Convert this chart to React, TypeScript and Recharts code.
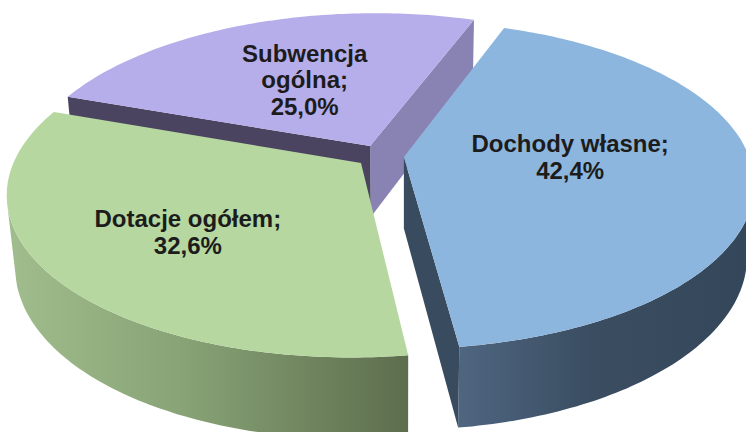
import React from 'react';
import { PieChart, Pie } from 'recharts';

// data (order follows the drawing order: back slice first)
const CATEGORIES = ['Subwencja ogólna', 'Dotacje ogółem', 'Dochody własne'];
const SHARES = [25.0, 32.6, 42.4];

const TOP_COLORS = ['#b6aeea', '#b6d7a0', '#8db6de'];
const START_FACE = ['#8983b3', '#7f9a6c', '#394b5e'];
const END_FACE = ['#4a4461', '#6d8560', '#3a4c5f'];
const WALL_STOPS = [
  ['#9a92c8', '#7d76aa', '#6e679a'],
  ['#a1bd8d', '#87a275', '#5d6d4d'],
  ['#4f6681', '#3a4d61', '#33465a'],
];
// where the label sits: share of the radius, then a small vertical nudge
const LABEL_RADIUS = [0.5, 0.59, 0.48];
const LABEL_NUDGE = [-1, 5, -8];

const chartData = CATEGORIES.map((name, i) => ({ name, value: SHARES[i] }));

// fake 3d view
const SIN_T = 0.46;
const COS_T = Math.sqrt(1 - SIN_T * SIN_T);
const EYE = 1800;
const CAM_X = 27;
const DEPTH = 82;
const EXPLODE = 24;
const RAD = Math.PI / 180;

const project = (cx: number, cy: number, x: number, z: number, y: number) => {
  const sy = z * SIN_T - y * COS_T;
  const d = z * COS_T + y * SIN_T;
  const f = EYE / (EYE - d);
  return [cx + CAM_X + (x - CAM_X) * f, cy + sy * f];
};

const toPath = (pts: number[][]) =>
  pts.map((p, i) => `${i ? 'L' : 'M'}${p[0].toFixed(1)},${p[1].toFixed(1)}`).join(' ') + ' Z';

const Slice3D = (props: any) => {
  const { cx, cy, outerRadius, startAngle, endAngle, percent, index } = props;
  const lo = Math.min(startAngle, endAngle);
  const hi = Math.max(startAngle, endAngle);
  const mid = (lo + hi) / 2;
  const R = outerRadius;
  const ax = EXPLODE * Math.cos(mid * RAD);
  const az = -EXPLODE * Math.sin(mid * RAD);
  const rim = (a: number) => [ax + R * Math.cos(a * RAD), az - R * Math.sin(a * RAD)];
  const camZ = EYE * COS_T;
  const faces = (nx: number, nz: number, px: number, pz: number) => nx * (CAM_X - px) + nz * (camZ - pz) > 0;

  const steps = Math.max(4, Math.ceil(hi - lo));
  const rimPts: number[][] = [];
  for (let i = 0; i <= steps; i++) rimPts.push([lo + ((hi - lo) * i) / steps, ...rim(lo + ((hi - lo) * i) / steps)]);

  // outer wall, only the part facing the viewer
  const runs: number[][][] = [];
  let cur: number[][] = [];
  rimPts.forEach(([a, px, pz]) => {
    if (faces(Math.cos(a * RAD), -Math.sin(a * RAD), px, pz)) cur.push([px, pz]);
    else {
      if (cur.length > 1) runs.push(cur);
      cur = [];
    }
  });
  if (cur.length > 1) runs.push(cur);

  const cutFace = (a: number, color: string, sign: number) => {
    const n = a + sign * 90;
    if (!faces(Math.cos(n * RAD), -Math.sin(n * RAD), ax, az)) return null;
    const [px, pz] = rim(a);
    const pts = [
      project(cx, cy, ax, az, 0),
      project(cx, cy, px, pz, 0),
      project(cx, cy, px, pz, -DEPTH),
      project(cx, cy, ax, az, -DEPTH),
    ];
    return <path d={toPath(pts)} fill={color} stroke="none" />;
  };

  const top = [project(cx, cy, ax, az, 0), ...rimPts.map(([, px, pz]) => project(cx, cy, px, pz, 0))];

  // label
  const lr = LABEL_RADIUS[index] * R;
  const [lx, ly0] = project(cx, cy, ax + lr * Math.cos(mid * RAD), az - lr * Math.sin(mid * RAD), 0);
  const ly = ly0 + LABEL_NUDGE[index];
  const pct = `${(percent * 100).toFixed(1).replace('.', ',')}%`;
  const name = CATEGORIES[index];
  const words = name.split(' ');
  const lines = hi - lo < 100 ? [...words.slice(0, -1), words[words.length - 1] + ';', pct] : [name + ';', pct];
  const lineH = 26.5;
  const gradId = `wall-${index}`;
  const stops = WALL_STOPS[index];

  return (
    <g key={`slice-${index}`}>
      <defs>
        <linearGradient id={gradId} x1="0" y1="0" x2="1" y2="0">
          <stop offset="0%" stopColor={stops[0]} />
          <stop offset="45%" stopColor={stops[1]} />
          <stop offset="100%" stopColor={stops[2]} />
        </linearGradient>
      </defs>
      {runs.map((run, k) => {
        const upper = run.map(([px, pz]) => project(cx, cy, px, pz, 0));
        const lower = run.map(([px, pz]) => project(cx, cy, px, pz, -DEPTH)).reverse();
        return <path key={k} d={toPath([...upper, ...lower])} fill={`url(#${gradId})`} stroke="none" />;
      })}
      {cutFace(lo, START_FACE[index], -1)}
      {cutFace(hi, END_FACE[index], 1)}
      <path d={toPath(top)} fill={TOP_COLORS[index]} stroke="none" />
      <text
        x={lx}
        textAnchor="middle"
        fontFamily="'Liberation Sans', Arial, sans-serif"
        fontWeight="bold"
        fontSize={24}
        fill="#1c1c1c"
      >
        {lines.map((t, i) => (
          <tspan key={i} x={lx} y={ly + (i - (lines.length - 1) / 2) * lineH + 8.5}>
            {t}
          </tspan>
        ))}
      </text>
    </g>
  );
};

export default function App() {
  return (
    <div style={{ position: 'absolute', left: 0, top: 0, width: 746, height: 432, background: '#fff', overflow: 'hidden' }}>
      <PieChart width={746} height={432} margin={{ top: 0, right: 0, bottom: 0, left: 0 }}>
        <Pie
          data={chartData}
          dataKey="value"
          nameKey="name"
          cx={380}
          cy={156}
          outerRadius={345}
          startAngle={70.4}
          endAngle={430.4}
          fill="none"
          stroke="none"
          label={Slice3D}
          labelLine={false}
          isAnimationActive={false}
        />
      </PieChart>
    </div>
  );
}
